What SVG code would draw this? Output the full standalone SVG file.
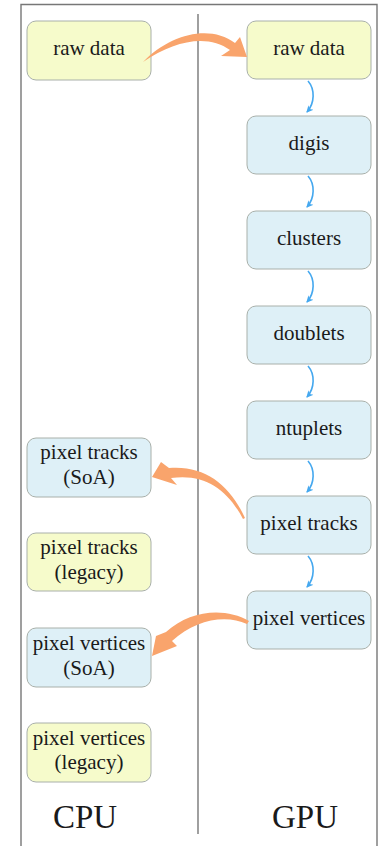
<svg xmlns="http://www.w3.org/2000/svg" width="382" height="846" viewBox="0 0 382 846">
  <defs>
    <style>
      .frame { fill: none; stroke: #777; stroke-width: 1.4; }
      .node rect { stroke: #a9b0aa; stroke-width: 1; }
      .yellow rect { fill: #f6fbcb; }
      .blue rect { fill: #def0f7; }
      .node text { font-family: "Liberation Serif", "Times New Roman", serif; font-size: 21px; fill: #1a1a1a; text-anchor: middle; }
      .label { font-family: "Liberation Serif", "Times New Roman", serif; font-size: 33px; fill: #1a1a1a; text-anchor: middle; }
      .orange { fill: #f9a46c; stroke: none; }
      .bluearrow { fill: none; stroke: #45a8ef; stroke-width: 1.6; }
    </style>
    <marker id="bhead" markerWidth="8" markerHeight="8" refX="6" refY="4" orient="auto" markerUnits="userSpaceOnUse">
      <path d="M0,0.5 L7,4 L0,7.5 L2,4 Z" fill="#45a8ef"/>
    </marker>
  </defs>

  <rect x="0" y="0" width="382" height="846" fill="#ffffff"/>

  <!-- frame and divider -->
  <path class="frame" d="M21,850 L21,4.5 L377,4.5 L377,850"/>
  <line class="frame" x1="198" y1="14" x2="198" y2="834"/>

  <!-- CPU nodes -->
  <g id="cpu-raw-data" class="node yellow">
    <rect x="27" y="21" width="124" height="59" rx="9"/>
    <text x="89" y="55">raw data</text>
  </g>
  <g id="cpu-pixel-tracks-soa" class="node blue">
    <rect x="27" y="438" width="124" height="59" rx="9"/>
    <text x="89" y="459">pixel tracks</text>
    <text x="89" y="484">(SoA)</text>
  </g>
  <g id="cpu-pixel-tracks-legacy" class="node yellow">
    <rect x="27" y="533" width="124" height="58" rx="9"/>
    <text x="89" y="554">pixel tracks</text>
    <text x="89" y="579">(legacy)</text>
  </g>
  <g id="cpu-pixel-vertices-soa" class="node blue">
    <rect x="27" y="628" width="124" height="59" rx="9"/>
    <text x="89" y="650">pixel vertices</text>
    <text x="89" y="675">(SoA)</text>
  </g>
  <g id="cpu-pixel-vertices-legacy" class="node yellow">
    <rect x="27" y="723" width="124" height="59" rx="9"/>
    <text x="89" y="745">pixel vertices</text>
    <text x="89" y="769">(legacy)</text>
  </g>

  <!-- GPU nodes -->
  <g id="gpu-raw-data" class="node yellow">
    <rect x="247" y="21" width="124" height="58" rx="9"/>
    <text x="309" y="55">raw data</text>
  </g>
  <g id="gpu-digis" class="node blue">
    <rect x="247" y="116" width="124" height="58" rx="9"/>
    <text x="309" y="150">digis</text>
  </g>
  <g id="gpu-clusters" class="node blue">
    <rect x="247" y="211" width="124" height="58" rx="9"/>
    <text x="309" y="245">clusters</text>
  </g>
  <g id="gpu-doublets" class="node blue">
    <rect x="247" y="306" width="124" height="58" rx="9"/>
    <text x="309" y="340">doublets</text>
  </g>
  <g id="gpu-ntuplets" class="node blue">
    <rect x="247" y="401" width="124" height="58" rx="9"/>
    <text x="309" y="435">ntuplets</text>
  </g>
  <g id="gpu-pixel-tracks" class="node blue">
    <rect x="247" y="496" width="124" height="58" rx="9"/>
    <text x="309" y="530">pixel tracks</text>
  </g>
  <g id="gpu-pixel-vertices" class="node blue">
    <rect x="247" y="591" width="124" height="58" rx="9"/>
    <text x="309" y="625">pixel vertices</text>
  </g>

  <!-- connectors -->
  <g id="connectors">
    <path class="orange" d="M143,62 C170,34 210,24 235,43 L240,37 L247,57 L221,56 L230,50 C208,34 175,40 143,62 Z"/>
    <path class="orange" d="M245,518 C230,485 205,465 169,468 L161,462 L152,477 L177,485 L171,478 C205,473 228,490 243,519 Z"/>
    <path class="orange" d="M249,621 C225,607 190,610 166,632 L156,636 L152,656 L177,646 L172,641 C195,620 225,614 247,624 Z"/>

    <path class="bluearrow" marker-end="url(#bhead)" transform="translate(308,81)" d="M0,0 C7,8 7,22 -1,31"/>
    <path class="bluearrow" marker-end="url(#bhead)" transform="translate(308,176)" d="M0,0 C7,8 7,22 -1,31"/>
    <path class="bluearrow" marker-end="url(#bhead)" transform="translate(308,271)" d="M0,0 C7,8 7,22 -1,31"/>
    <path class="bluearrow" marker-end="url(#bhead)" transform="translate(308,366)" d="M0,0 C7,8 7,22 -1,31"/>
    <path class="bluearrow" marker-end="url(#bhead)" transform="translate(308,461)" d="M0,0 C7,8 7,22 -1,31"/>
    <path class="bluearrow" marker-end="url(#bhead)" transform="translate(308,556)" d="M0,0 C7,8 7,22 -1,31"/>
  </g>

  <!-- column labels -->
  <text class="label" x="85" y="828">CPU</text>
  <text class="label" x="305" y="828">GPU</text>
</svg>
